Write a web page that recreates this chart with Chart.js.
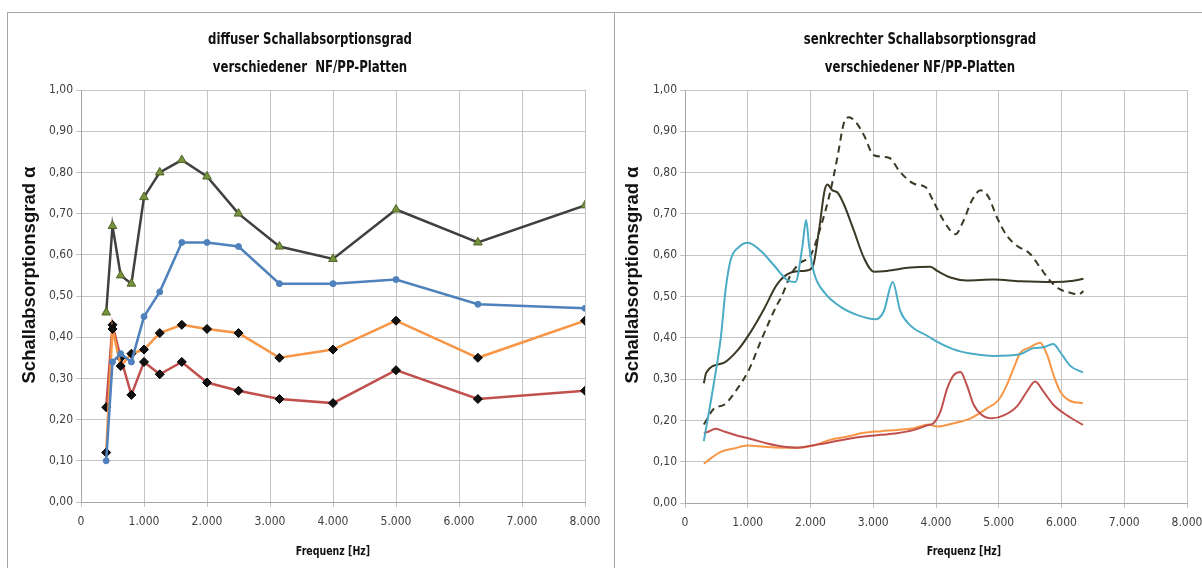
<!DOCTYPE html>
<html><head><meta charset="utf-8">
<script src="https://cdn.jsdelivr.net/npm/chart.js@4"></script>
<style>
html,body{margin:0;padding:0;background:#fff;overflow:hidden;width:1202px;height:568px;position:relative;}
canvas{position:absolute;top:12px;}
.ln{position:absolute;background:#a6a6a6;}
</style></head><body>
<canvas id="c1" width="607" height="556" style="left:7px"></canvas>
<canvas id="c2" width="607" height="556" style="left:614px"></canvas>
<div class="ln" style="left:7px;top:12px;width:1195px;height:1px"></div>
<div class="ln" style="left:7px;top:12px;width:1px;height:556px"></div>
<div class="ln" style="left:614px;top:12px;width:1px;height:556px"></div>
<script>
// ---- Data: diffuse absorption (left) ----
const freqDiffuse = [400, 500, 630, 800, 1000, 1250, 1600, 2000, 2500, 3150, 4000, 5000, 6300, 8000];
const diffGray   = [0.46, 0.67, 0.55, 0.53, 0.74, 0.80, 0.83, 0.79, 0.70, 0.62, 0.59, 0.71, 0.63, 0.72];
const diffBlue   = [0.10, 0.34, 0.36, 0.34, 0.45, 0.51, 0.63, 0.63, 0.62, 0.53, 0.53, 0.54, 0.48, 0.47];
const diffOrange = [0.12, 0.42, 0.33, 0.36, 0.37, 0.41, 0.43, 0.42, 0.41, 0.35, 0.37, 0.44, 0.35, 0.44];
const diffRed    = [0.23, 0.43, 0.35, 0.26, 0.34, 0.31, 0.34, 0.29, 0.27, 0.25, 0.24, 0.32, 0.25, 0.27];

// ---- Data: normal incidence absorption (right) ----
const cyanF = [300, 460, 570, 650, 730, 860, 1000, 1210, 1420, 1630, 1760, 1870, 1930, 1980, 2060, 2220, 2480, 2750, 3040, 3170, 3310, 3430, 3590, 3860, 4020, 4280, 4550, 4920, 5340, 5550, 5710, 5870, 5980, 6140, 6340];
const cyanA = [0.15, 0.29, 0.40, 0.52, 0.59, 0.62, 0.63, 0.61, 0.575, 0.54, 0.535, 0.62, 0.685, 0.62, 0.555, 0.51, 0.475, 0.455, 0.445, 0.465, 0.535, 0.465, 0.43, 0.405, 0.39, 0.372, 0.362, 0.356, 0.36, 0.375, 0.377, 0.385, 0.365, 0.332, 0.316];

const darkF = [300, 340, 625, 840, 1050, 1260, 1470, 1690, 1900, 2030, 2135, 2225, 2270, 2350, 2430, 2530, 2690, 2850, 3010, 3220, 3590, 3910, 4020, 4230, 4490, 4920, 5340, 5870, 6190, 6350];
const darkA = [0.29, 0.316, 0.34, 0.37, 0.415, 0.47, 0.53, 0.558, 0.562, 0.57, 0.66, 0.757, 0.771, 0.757, 0.752, 0.724, 0.66, 0.594, 0.56, 0.562, 0.57, 0.572, 0.562, 0.546, 0.539, 0.541, 0.537, 0.535, 0.538, 0.543];

const dashF = [300, 465, 625, 840, 1020, 1230, 1470, 1530, 1690, 1840, 2000, 2160, 2320, 2430, 2530, 2610, 2720, 2850, 3010, 3250, 3430, 3650, 3830, 3960, 4120, 4310, 4440, 4570, 4710, 4840, 4970, 5130, 5290, 5500, 5660, 5820, 5980, 6140, 6270, 6350];
const dashA = [0.19, 0.229, 0.238, 0.278, 0.323, 0.40, 0.481, 0.497, 0.554, 0.582, 0.599, 0.667, 0.757, 0.838, 0.919, 0.934, 0.923, 0.891, 0.842, 0.836, 0.801, 0.773, 0.765, 0.73, 0.684, 0.651, 0.684, 0.732, 0.757, 0.74, 0.692, 0.647, 0.623, 0.603, 0.57, 0.538, 0.517, 0.509, 0.505, 0.513];

const redF = [300, 360, 490, 625, 840, 1050, 1310, 1580, 1790, 2060, 2320, 2590, 2850, 3120, 3380, 3650, 3880, 3960, 4070, 4180, 4280, 4390, 4490, 4600, 4730, 4890, 5080, 5290, 5450, 5580, 5710, 5870, 6080, 6340];
const redA = [0.169, 0.172, 0.18, 0.173, 0.163, 0.155, 0.144, 0.136, 0.134, 0.14, 0.147, 0.155, 0.161, 0.165, 0.169, 0.177, 0.189, 0.193, 0.221, 0.278, 0.309, 0.317, 0.286, 0.238, 0.213, 0.205, 0.212, 0.234, 0.27, 0.294, 0.27, 0.238, 0.213, 0.189];

const orangeF = [300, 410, 570, 780, 1000, 1260, 1530, 1790, 2060, 2320, 2590, 2850, 3120, 3380, 3650, 3880, 4020, 4280, 4550, 4810, 5000, 5130, 5240, 5340, 5500, 5660, 5770, 5870, 5980, 6140, 6340];
const orangeA = [0.095, 0.108, 0.124, 0.132, 0.139, 0.136, 0.134, 0.134, 0.14, 0.153, 0.161, 0.17, 0.174, 0.177, 0.181, 0.19, 0.185, 0.193, 0.205, 0.229, 0.25, 0.286, 0.327, 0.363, 0.377, 0.388, 0.359, 0.311, 0.27, 0.247, 0.242];

// ---- Text ----
const titleLeft = ['diffuser Schallabsorptionsgrad', 'verschiedener  NF/PP-Platten'];
const titleRight = ['senkrechter Schallabsorptionsgrad', 'verschiedener NF/PP-Platten'];
const yAxisTitle = 'Schallabsorptionsgrad \u03b1';
const xAxisTitle = 'Frequenz [Hz]';
const xTickValues = [0, 1000, 2000, 3000, 4000, 5000, 6000, 7000, 8000];

const NARROW = "'Liberation Sans Narrow', 'DejaVu Sans Condensed', 'Roboto', sans-serif";

function pts(xs, ys) { return xs.map((x, i) => ({x: x, y: ys[i]})); }
function fmtX(v) { return v === 0 ? '0' : (v / 1000) + '.000'; }
function fmtY(v) { return v.toFixed(2).replace('.', ','); }

function narrowText(ctx, text, x, y, sx) {
  ctx.save();
  ctx.translate(x, y);
  ctx.scale(sx, 1);
  ctx.fillText(text, 0, 0);
  ctx.restore();
}

const textPlugin = {
  id: 'panelText',
  afterDraw(chart, args, opts) {
    const ctx = chart.ctx;
    ctx.save();
    ctx.fillStyle = '#111';
    ctx.textAlign = 'center';
    ctx.textBaseline = 'middle';
    ctx.font = 'bold 15px ' + NARROW;
    narrowText(ctx, opts.title[0], opts.titleX, 28, 0.87);
    narrowText(ctx, opts.title[1], opts.titleX, 56, 0.87);
    ctx.font = 'bold 12.5px ' + NARROW;
    narrowText(ctx, xAxisTitle, opts.xTitleX, 540, 0.84);
    ctx.translate(opts.yTitleX, 263);
    ctx.rotate(-Math.PI / 2);
    ctx.font = "bold 18.5px 'Liberation Sans', Arial, sans-serif";
    ctx.fillText(yAxisTitle, 0, 0);
    ctx.restore();
  }
};

function scales(yWidth, xHeight) {
  const grid = {color: '#c4c4c4', lineWidth: 1, tickLength: 5, drawTicks: true};
  const tickFont = {family: NARROW, size: 12};
  return {
    x: {
      type: 'linear', min: 0, max: 8000,
      afterBuildTicks: s => { s.ticks = xTickValues.map(v => ({value: v})); },
      ticks: {callback: fmtX, font: tickFont, color: '#404040', padding: 8, maxRotation: 0},
      grid: grid, border: {color: '#a6a6a6'},
      afterFit: s => { s.height = xHeight; }
    },
    y: {
      type: 'linear', min: 0, max: 1,
      ticks: {stepSize: 0.1, callback: fmtY, font: tickFont, color: '#404040', padding: 3},
      grid: grid, border: {color: '#a6a6a6'},
      afterFit: s => { s.width = yWidth; }
    }
  };
}

const commonOpts = {
  responsive: false, animation: false, devicePixelRatio: 1,
  plugins: {legend: {display: false}, title: {display: false}, tooltip: {enabled: false}},
};

// Left chart
new Chart(document.getElementById('c1'), {
  type: 'line',
  data: {
    datasets: [
      {data: pts(freqDiffuse, diffGray), borderColor: '#404040', borderWidth: 2.5,
       pointStyle: 'triangle', pointRadius: 5, pointBackgroundColor: '#77933c', pointBorderColor: '#4f6228', pointBorderWidth: 1},
      {data: pts(freqDiffuse, diffBlue), borderColor: '#4f81bd', borderWidth: 2.5,
       pointStyle: 'circle', pointRadius: 3, pointBackgroundColor: '#4f81bd', pointBorderColor: '#4f81bd', pointBorderWidth: 1},
      {data: pts(freqDiffuse, diffOrange), borderColor: '#f79646', borderWidth: 2.5,
       pointStyle: 'rectRot', pointRadius: 4.5, pointBackgroundColor: '#111', pointBorderColor: '#000', pointBorderWidth: 1},
      {data: pts(freqDiffuse, diffRed), borderColor: '#c0504d', borderWidth: 2.5,
       pointStyle: 'rectRot', pointRadius: 4.5, pointBackgroundColor: '#111', pointBorderColor: '#000', pointBorderWidth: 1}
    ]
  },
  options: Object.assign({}, commonOpts, {
    layout: {padding: {top: 78, right: 29, left: 0, bottom: 0}},
    scales: scales(74, 66),
    plugins: Object.assign({}, commonOpts.plugins, {
      panelText: {title: titleLeft, titleX: 303, xTitleX: 326, yTitleX: 23}
    })
  }),
  plugins: [textPlugin]
});

// Right chart
const lineDs = (xs, ys, color, dash) => ({
  data: pts(xs, ys), borderColor: color, borderWidth: 2, pointRadius: 0,
  cubicInterpolationMode: 'monotone', borderDash: dash || []
});
new Chart(document.getElementById('c2'), {
  type: 'line',
  data: {
    datasets: [
      lineDs(cyanF, cyanA, '#4bacc6'),
      lineDs(darkF, darkA, '#3b3826'),
      lineDs(dashF, dashA, '#3b3826', [7, 5]),
      lineDs(redF, redA, '#c0504d'),
      lineDs(orangeF, orangeA, '#f79646')
    ]
  },
  options: Object.assign({}, commonOpts, {
    layout: {padding: {top: 78, right: 34, left: 0, bottom: 0}},
    scales: scales(71, 65),
    plugins: Object.assign({}, commonOpts.plugins, {
      panelText: {title: titleRight, titleX: 306, xTitleX: 350, yTitleX: 19}
    })
  }),
  plugins: [textPlugin]
});
</script>
</body></html>
